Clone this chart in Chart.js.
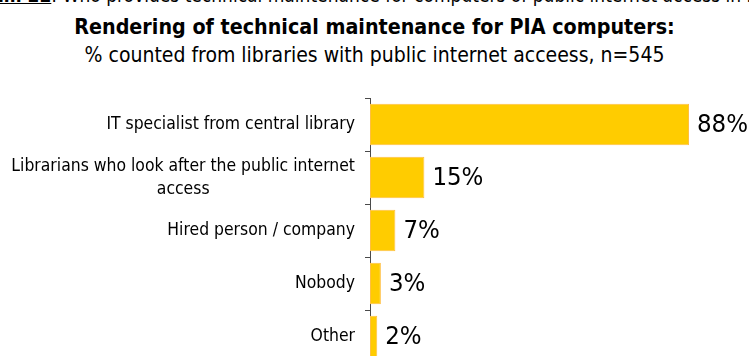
<!DOCTYPE html>
<html>
<head>
<meta charset="utf-8">
<script src="https://cdn.jsdelivr.net/npm/chart.js@4/dist/chart.umd.min.js"></script>
<style>
  html, body { margin: 0; padding: 0; background: #fff; overflow: hidden; width: 749px; height: 356px; }
  body { position: relative; font-family: "DejaVu Sans Condensed", "DejaVu Sans", sans-serif; color: #000; }
  .caption { position: absolute; top: -16px; left: -60px; font-size: 19px; white-space: nowrap; }
  .caption u { font-weight: bold; }
  .title { position: absolute; left: 0; width: 749px; text-align: center; white-space: nowrap; }
  #t1 { top: 14px; font-size: 21.3px; font-weight: bold; }
  #t2 { top: 43px; font-size: 21px; }
  #wrap { position: absolute; left: 0; top: 0; width: 749px; height: 380px; }
</style>
</head>
<body>
<div class="caption"><u>Diagram 22</u>: Who provides technical maintenance for computers of public internet access in libraries</div>
<div class="title" id="t1">Rendering of technical maintenance for PIA computers:</div>
<div class="title" id="t2">% counted from libraries with public internet acceess, n=545</div>
<div id="wrap"><canvas id="c"></canvas></div>
<script>
// Who looks after the PIA computers (share of libraries, %)
const categories = [
  ['IT specialist from central library'],
  ['Librarians who look after the public internet', 'access'],
  ['Hired person / company'],
  ['Nobody'],
  ['Other']
];
const shares = [88, 15, 7, 3, 2];

const FONT = '"DejaVu Sans Condensed", "DejaVu Sans", sans-serif';

// Category names: each block right-aligned to the axis, wrapped lines centred within it
const categoryLabels = {
  id: 'categoryLabels',
  afterDraw(chart) {
    const ctx = chart.ctx;
    const y = chart.scales.y;
    ctx.save();
    ctx.font = '17.4px ' + FONT;
    ctx.fillStyle = '#000';
    ctx.textBaseline = 'middle';
    ctx.textAlign = 'center';
    const lineH = 23;
    categories.forEach((lines, i) => {
      const cy = y.getPixelForTick(i);
      const w = Math.max(...lines.map(l => ctx.measureText(l).width));
      const cx = y.right - 15 - w / 2;
      const top = cy - (lines.length - 1) * lineH / 2;
      lines.forEach((l, k) => ctx.fillText(l, cx, top + k * lineH));
    });
    ctx.restore();
  }
};

// Percentage values printed after each bar
const valueLabels = {
  id: 'valueLabels',
  afterDatasetsDraw(chart) {
    const ctx = chart.ctx;
    const meta = chart.getDatasetMeta(0);
    ctx.save();
    ctx.font = '25.5px ' + FONT;
    ctx.fillStyle = '#000';
    ctx.textBaseline = 'middle';
    ctx.textAlign = 'left';
    meta.data.forEach((bar, i) => {
      ctx.fillText(shares[i] + '%', bar.x + 8, bar.y + 1);
    });
    ctx.restore();
  }
};

new Chart(document.getElementById('c'), {
  type: 'bar',
  data: {
    labels: categories.map(l => l.join(' ')),
    datasets: [{
      data: shares,
      backgroundColor: '#FFCC00',
      borderColor: '#FFBF40',
      borderWidth: 1,
      borderSkipped: false,
      categoryPercentage: 0.78,
      barPercentage: 1
    }]
  },
  options: {
    indexAxis: 'y',
    responsive: true,
    maintainAspectRatio: false,
    animation: false,
    events: [],
    layout: { padding: { top: 98, bottom: 17, left: 0, right: 16.5 } },
    plugins: { legend: { display: false }, tooltip: { enabled: false } },
    scales: {
      x: { min: 0, max: 100, display: false },
      y: {
        grid: { drawOnChartArea: false, drawTicks: true, tickLength: 5, color: '#4a4a4a', offset: true },
        border: { display: true, color: '#4a4a4a', width: 1 },
        ticks: { display: false },
        afterFit(scale) { scale.width = 370; }
      }
    }
  },
  plugins: [categoryLabels, valueLabels]
});
</script>
</body>
</html>
